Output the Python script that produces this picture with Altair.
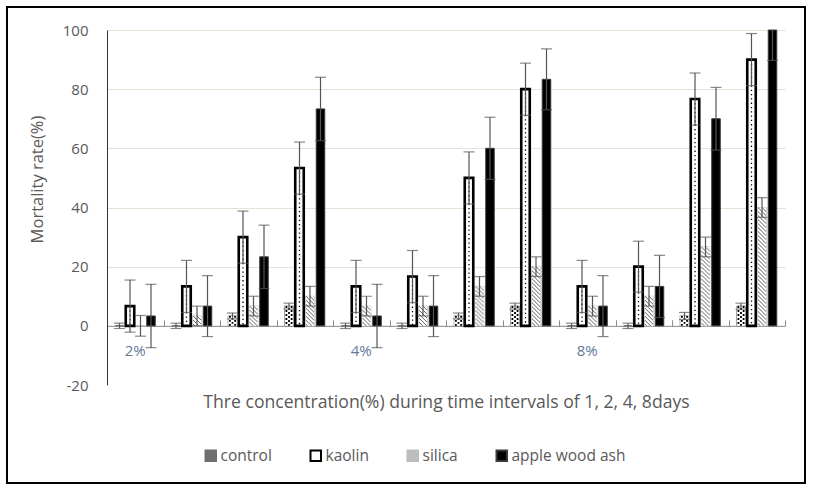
import altair as alt
import pandas as pd

# ---------------- data ----------------
groups = [f"g{i}" for i in range(1, 13)]
group_labels = ["2%", "", "", "", "4%", "", "", "", "8%", "", "", ""]
series = ["control", "kaolin", "silica", "apple wood ash"]

control = [0, 0, 3.33, 6.67, 0, 0, 3.33, 6.67, 0, 0, 3.33, 6.67]
control_err = [0.9, 0.9, 1.0, 1.0, 0.9, 0.9, 1.0, 1.0, 0.9, 0.9, 1.2, 1.0]
kaolin = [6.67, 13.33, 30, 53.33, 13.33, 16.67, 50, 80, 13.33, 20, 76.67, 90]
kaolin_err = [8.8, 8.8, 8.8, 8.8, 8.8, 8.8, 8.8, 8.8, 8.8, 8.6, 8.8, 8.8]
silica = [0, 3.33, 6.67, 10, 6.67, 6.67, 13.33, 20, 6.67, 10, 26.67, 40]
silica_err = [3.5, 3.33, 3.33, 3.33, 3.33, 3.33, 3.33, 3.33, 3.33, 3.33, 3.33, 3.33]
ash = [3.33, 6.67, 23.33, 73.33, 3.33, 6.67, 60, 83.33, 6.67, 13.33, 70, 100]
ash_err = [10.7, 10.3, 10.7, 10.7, 10.7, 10.3, 10.5, 10.3, 10.3, 10.5, 10.6, 10.3]

vals = {"control": control, "kaolin": kaolin, "silica": silica, "apple wood ash": ash}
errs = {"control": control_err, "kaolin": kaolin_err, "silica": silica_err, "apple wood ash": ash_err}

rows = []
for i, g in enumerate(groups):
    for j, s in enumerate(series):
        v = vals[s][i]
        e = errs[s][i]
        rows.append({"group": g, "gi": i, "series": s, "si": j,
                     "value": v, "lo": v - e, "hi": v + e})
df = pd.DataFrame(rows)

TEXT = "#595959"
FONT = "Open Sans"
W, H = 678, 355
zero_px = H * 100 / 120

# band geometry of the offset scale (used to line pattern strokes up with the bars)
PI, PO = 0.19, 0.785
N = len(groups)
GW = W / N
STEP = GW / (len(series) - PI + 2 * PO)
BW = STEP * (1 - PI)
START = (GW - STEP * (len(series) - PI)) / 2

label_map = ",".join(f"'{g}':'{l}'" for g, l in zip(groups, group_labels) if l)
label_expr = "({" + label_map + "})[datum.value] || ''"

xscale = alt.Scale(type="band", domain=groups, paddingInner=0, paddingOuter=0)
xoff = alt.XOffset("series:N", sort=series,
                   scale=alt.Scale(type="band", domain=series, paddingInner=PI, paddingOuter=PO))
x_none = alt.X("group:N", sort=groups, scale=xscale, axis=None)
yv = alt.Y("value:Q", axis=None)

base = alt.Chart(df)

bars = base.mark_bar(strokeWidth=1).encode(
    x=alt.X("group:N", sort=groups, scale=xscale,
            axis=alt.Axis(orient="top", offset=-zero_px, labels=False, title=None,
                          domainColor="#8c8c8c", tickColor="#8c8c8c", tickSize=6,
                          tickBand="extent", grid=False)),
    xOffset=xoff,
    y=alt.Y("value:Q", scale=alt.Scale(domain=[-20, 100], nice=False),
            axis=alt.Axis(values=[-20, 0, 20, 40, 60, 80, 100], domain=True,
                          domainColor="#333333", ticks=False, tickSize=0,
                          labelExpr="datum.value < 0 ? '-' + abs(datum.value) : '' + datum.value",
                          labelPadding=19, labelFontSize=15, labelColor=TEXT,
                          gridColor="#e4e4d6",
                          gridOpacity={"condition": {"test": "datum.value == -20", "value": 0}, "value": 1},
                          title="Mortality rate(%)", titleX=-70, titleY=149,
                          titleAlign="center", titleBaseline="middle",
                          titleFontSize=16.5, titleFontWeight="normal", titleColor=TEXT)),
    y2=alt.datum(0),
    fill=alt.Fill("series:N", scale=alt.Scale(domain=series,
                  range=["#6f6f6f", "#ffffff", "#bdbdbd", "#000000"]),
                  legend=alt.Legend(title=None)),
    stroke=alt.Stroke("series:N", scale=alt.Scale(domain=series,
                      range=["#6f6f6f", "#000000", "#bdbdbd", "#3a3a3a"]),
                      legend=alt.Legend(title=None)),
)


def white_bar(name):
    return base.transform_filter(alt.datum.series == name).mark_bar(fill="white").encode(
        x=x_none, xOffset=xoff, y=yv, y2=alt.datum(0))


kaolin_edge = base.transform_filter(alt.datum.series == "kaolin").mark_bar(
    fillOpacity=0, stroke="black", strokeWidth=2.6).encode(
    x=x_none, xOffset=xoff, y=yv, y2=alt.datum(0))

layers = [bars, white_bar("control"), white_bar("silica")]

px_scale = alt.Scale(domain=[0, W], range=[0, W], nice=False, zero=False)


def pattern_rule(name, dx, color, width, dash, dash_off):
    expr = f"datum.gi * {GW} + {START + BW / 2} + datum.si * {STEP} + ({dx})"
    return base.transform_filter(alt.datum.series == name).transform_calculate(
        px=expr).mark_rule(color=color, strokeWidth=width, strokeDash=dash,
                           strokeDashOffset=dash_off).encode(
        x=alt.X("px:Q", scale=px_scale, axis=None), y=yv, y2=alt.datum(0))


# control: speckled dots
for dx, off in [(-2.6, 0), (0, 2), (2.6, 0)]:
    layers.append(pattern_rule("control", dx, "black", 1.8, [1.8, 2.2], off))

# silica: diagonal hatch
for k in range(8):
    layers.append(pattern_rule("silica", -3.5 + k, "#5e5e5e", 1, [1, 3], (4 - k % 4) % 4))

# kaolin: dotted centre line
layers.append(pattern_rule("kaolin", 0, "black", 1.3, [1.3, 3], 0))
layers.append(kaolin_edge)

# error bars
ERR = "#555555"
err_rule = base.mark_rule(color=ERR, strokeWidth=1.2, clip=True).encode(
    x=alt.X("group:N", sort=groups, scale=xscale,
            axis=alt.Axis(orient="bottom", domain=False, ticks=False, tickSize=0,
                          labelPadding=-42, labelExpr=label_expr, labelAngle=0,
                          labelFontSize=15, labelColor="#66799a", grid=False,
                          title="Thre concentration(%) during time intervals of 1, 2, 4, 8days",
                          titleY=17, titleBaseline="middle", titleFontSize=17.6,
                          titleFontWeight="normal", titleColor=TEXT)),
    xOffset=xoff,
    y=alt.Y("lo:Q", axis=None),
    y2="hi:Q",
)
cap_hi = base.mark_tick(color=ERR, thickness=1.2, size=11, clip=True).encode(
    x=x_none, xOffset=xoff, y=alt.Y("hi:Q", axis=None))
cap_lo = base.mark_tick(color=ERR, thickness=1.2, size=11, clip=True).encode(
    x=x_none, xOffset=xoff, y=alt.Y("lo:Q", axis=None))

frame = alt.Chart(pd.DataFrame({"f": [0]})).mark_rect(
    fillOpacity=0, stroke="black", strokeWidth=2).encode(
    x=alt.value(-100), x2=alt.value(698), y=alt.value(-23), y2=alt.value(453))

layers += [err_rule, cap_hi, cap_lo, frame]

chart = alt.layer(*layers).resolve_scale(x="independent").resolve_axis(
    x="independent", y="independent").properties(
    width=W, height=H,
    autosize=alt.AutoSizeParams(type="none"),
    padding={"left": 107, "top": 30, "right": 29, "bottom": 108},
).configure(font=FONT).configure_view(stroke=None).configure_legend(
    orient="none", legendX=96, legendY=418, direction="horizontal",
    symbolType="square", symbolSize=110, symbolStrokeWidth=2,
    labelFontSize=15.5, labelColor=TEXT, labelFont=FONT, columnPadding=34, labelOffset=2,
)

chart.save("out.html", embed_options={"renderer": "svg", "actions": False})
